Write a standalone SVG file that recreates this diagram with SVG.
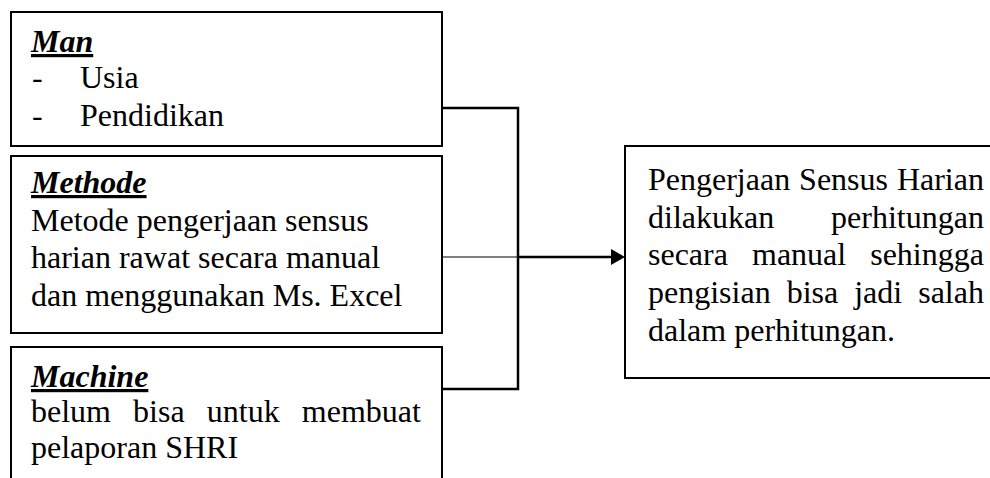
<svg xmlns="http://www.w3.org/2000/svg" width="990" height="478" viewBox="0 0 990 478">
<style>
  .box { fill: #fff; stroke: #000; stroke-width: 2; }
  .t { font-family: "Liberation Serif", "Times New Roman", serif; font-size: 32px; fill: #000; }
  .h { font-weight: bold; font-style: italic; text-decoration: underline; text-decoration-thickness: 3px; }
  .conn { fill: none; stroke: #000; stroke-width: 2.5; }
  .thin { fill: none; stroke: #000; stroke-width: 1.2; }
</style>
<defs>
  <marker id="arrow" markerUnits="userSpaceOnUse" markerWidth="15" markerHeight="16" refX="0" refY="8" orient="auto">
    <path d="M0,0 L14,8 L0,16 Z" fill="#000"/>
  </marker>
</defs>
<rect width="990" height="478" fill="#fff"/>

<g id="man">
  <rect class="box" x="11" y="12" width="431" height="134"/>
  <text class="t h" x="31" y="52">Man</text>
  <text class="t" x="32" y="88">-</text>
  <text class="t" x="80" y="88">Usia</text>
  <text class="t" x="32" y="126">-</text>
  <text class="t" x="80" y="126">Pendidikan</text>
</g>

<g id="methode">
  <rect class="box" x="11" y="156" width="431" height="177"/>
  <text class="t h" x="31" y="193">Methode</text>
  <text class="t" x="31" y="231">Metode pengerjaan sensus</text>
  <text class="t" x="31" y="268">harian rawat secara manual</text>
  <text class="t" x="31" y="306">dan menggunakan Ms. Excel</text>
</g>

<g id="machine">
  <rect class="box" x="11" y="347" width="431" height="145"/>
  <text class="t h" x="31" y="387">Machine</text>
  <text class="t" y="422"><tspan x="31">belum</tspan><tspan x="133.1">bisa</tspan><tspan x="206.8">untuk</tspan><tspan x="301.8">membuat</tspan></text>
  <text class="t" x="31" y="458">pelaporan SHRI</text>
</g>

<g id="effect">
  <rect class="box" x="625" y="146" width="380" height="232"/>
  <text class="t" y="190"><tspan x="648">Pengerjaan</tspan><tspan x="799.1">Sensus</tspan><tspan x="896.9">Harian</tspan></text>
  <text class="t" y="228"><tspan x="648">dilakukan</tspan><tspan x="831.1">perhitungan</tspan></text>
  <text class="t" y="265"><tspan x="648">secara</tspan><tspan x="752">manual</tspan><tspan x="870.2">sehingga</tspan></text>
  <text class="t" y="303"><tspan x="648">pengisian</tspan><tspan x="786.7">bisa</tspan><tspan x="854.2">jadi</tspan><tspan x="918.2">salah</tspan></text>
  <text class="t" x="648" y="341">dalam perhitungan.</text>
</g>

<g id="connectors">
  <path class="conn" d="M442,108 H518 V389 H442"/>
  <path class="thin" d="M442,257 H518"/>
  <path class="conn" d="M518,257 H611" marker-end="url(#arrow)"/>
</g>
</svg>
